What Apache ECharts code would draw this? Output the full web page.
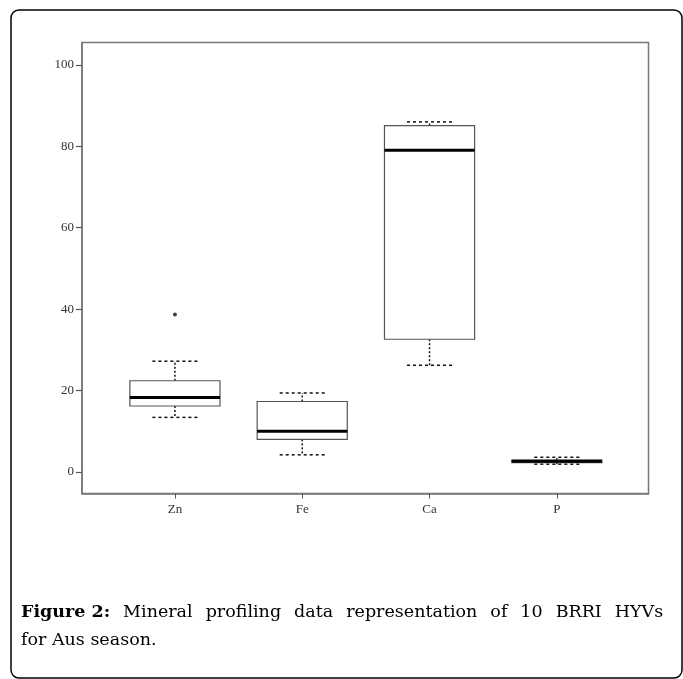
<!DOCTYPE html>
<html>
<head>
<meta charset="utf-8">
<script src="https://cdn.jsdelivr.net/npm/echarts@6/dist/echarts.min.js"></script>
<style>
html,body{margin:0;padding:0;background:#fff;}
#chart{width:683px;height:679px;}
</style>
</head>
<body>
<div id="chart"></div>
<script>
// ---- data ----
const categories = ['Zn', 'Fe', 'Ca', 'P'];
const minVals    = [13.4, 4.2, 26.2, 1.9];
const q1Vals     = [16.2, 8.0, 32.6, 2.3];
const medianVals = [18.3, 10.0, 79.0, 2.6];
const q3Vals     = [22.4, 17.3, 85.1, 2.9];
const maxVals    = [27.2, 19.4, 86.0, 3.6];
const outliers   = [[1, 38.7]]; // [category position (1-based), value]
const yTicks     = [0, 20, 40, 60, 80, 100];
const xPositions = [1, 2, 3, 4];
const captionBold = 'Figure 2:';
const captionLine1Words = ['Mineral', 'profiling', 'data', 'representation', 'of', '10', 'BRRI', 'HYVs'];
const captionLine2 = 'for Aus season.';

const boxData = categories.map((c, i) => [xPositions[i], minVals[i], q1Vals[i], medianVals[i], q3Vals[i], maxVals[i]]);

const BOX_HALF = 0.354;
const CAP_HALF = 0.177;

function renderBox(params, api) {
  const x = api.value(0);
  const vMin = api.value(1), vQ1 = api.value(2), vMed = api.value(3), vQ3 = api.value(4), vMax = api.value(5);
  const pL = api.coord([x - BOX_HALF, vQ3]);
  const pR = api.coord([x + BOX_HALF, vQ1]);
  const cx = api.coord([x, vMed])[0];
  const yMed = api.coord([x, vMed])[1];
  const yQ1 = pR[1], yQ3 = pL[1];
  const yMin = api.coord([x, vMin])[1];
  const yMax = api.coord([x, vMax])[1];
  const capL = api.coord([x - CAP_HALF, 0])[0];
  const capR = api.coord([x + CAP_HALF, 0])[0];
  const dotted = {stroke: '#111', lineWidth: 1.5, lineDash: [2, 2]};
  const dashed = {stroke: '#111', lineWidth: 1.5, lineDash: [3, 3]};
  return {
    type: 'group',
    children: [
      {type: 'line', shape: {x1: cx, y1: yQ3, x2: cx, y2: yMax}, style: dotted},
      {type: 'line', shape: {x1: cx, y1: yQ1, x2: cx, y2: yMin}, style: dotted},
      {type: 'line', shape: {x1: capL, y1: yMax, x2: capR, y2: yMax}, style: dashed},
      {type: 'line', shape: {x1: capL, y1: yMin, x2: capR, y2: yMin}, style: dashed},
      {type: 'rect', shape: {x: pL[0], y: yQ3, width: pR[0] - pL[0], height: yQ1 - yQ3},
        style: {fill: '#fff', stroke: '#555', lineWidth: 1.2}},
      {type: 'line', shape: {x1: pL[0], y1: yMed, x2: pR[0], y2: yMed},
        style: {stroke: '#000', lineWidth: 3}}
    ]
  };
}

const captionFont = {fontFamily: 'DejaVu Serif', fontSize: 17.5, color: '#1a1a1a', lineHeight: 28};
const line1Text = '{b|' + captionBold + '}{sp| }' + captionLine1Words.join('{sp| }');

const chart = echarts.init(document.getElementById('chart'), null, {renderer: 'canvas'});
chart.setOption({
  animation: false,
  backgroundColor: '#fff',
  graphic: [
    {
      type: 'rect',
      shape: {x: 11, y: 10, width: 671, height: 668, r: 8},
      style: {fill: 'none', stroke: '#000', lineWidth: 1.5},
      silent: true,
      z: 100
    },
    {
      type: 'text',
      left: 21,
      top: 598,
      style: Object.assign({
        text: line1Text,
        rich: {
          b: Object.assign({}, captionFont, {fontWeight: 'bold'}),
          sp: Object.assign({}, captionFont, {width: 13})
        }
      }, captionFont)
    },
    {
      type: 'text',
      left: 21,
      top: 626,
      style: Object.assign({text: captionLine2}, captionFont)
    }
  ],
  grid: {
    left: 82, top: 42.5, width: 566.5, height: 451,
    show: true, borderColor: '#777', borderWidth: 1.5, backgroundColor: '#fff'
  },
  xAxis: {
    type: 'value',
    min: 0.27,
    max: 4.72,
    axisLine: {onZero: false, lineStyle: {color: '#777', width: 1.5}},
    axisTick: {show: true, length: 5, customValues: xPositions, lineStyle: {color: '#555', width: 1}},
    axisLabel: {
      customValues: xPositions,
      margin: 10,
      fontFamily: 'Liberation Serif',
      fontSize: 13,
      color: '#333',
      formatter: v => categories[Math.round(v) - 1] || ''
    },
    splitLine: {show: false}
  },
  yAxis: {
    type: 'value',
    min: -5.3,
    max: 105.5,
    axisLine: {show: true, onZero: false, lineStyle: {color: '#777', width: 1.5}},
    axisTick: {show: true, length: 6, customValues: yTicks, lineStyle: {color: '#555', width: 1.2}},
    axisLabel: {
      customValues: yTicks,
      margin: 8,
      fontFamily: 'Liberation Serif',
      fontSize: 13,
      color: '#333'
    },
    splitLine: {show: false}
  },
  series: [
    {
      type: 'custom',
      renderItem: renderBox,
      data: boxData,
      encode: {x: 0, y: [1, 2, 3, 4, 5]},
      z: 5
    },
    {
      type: 'scatter',
      data: outliers,
      symbol: 'circle',
      symbolSize: 4,
      itemStyle: {color: '#111'},
      z: 6
    }
  ]
});
</script>
</body>
</html>
